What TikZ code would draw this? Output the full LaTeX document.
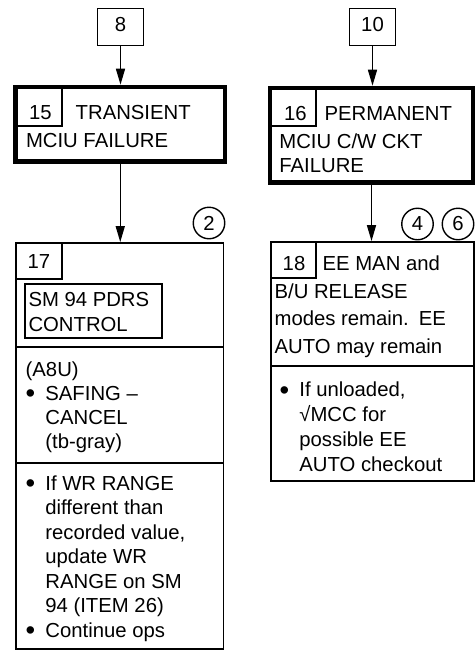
\documentclass[tikz,border=0pt]{standalone}
\usepackage{fontspec}
\usepackage{graphicx}
\setmainfont{Liberation Sans}
\usetikzlibrary{arrows.meta}
\newcommand{\bu}{\makebox[19.7pt][l]{\raisebox{-2.4pt}{\scalebox{1.35}{•}}}}
\newcommand{\nb}{\hspace*{19.7pt}}

\begin{document}
\begin{tikzpicture}[x=1pt, y=-1pt,
  txt/.style={inner sep=0pt, anchor=base west, align=left,
    font=\fontsize{20.3}{#1}\selectfont},
  txt/.default=24.5,
  box/.style={draw, line width=1.8pt, inner sep=0pt,
    font=\fontsize{20.3}{24.5}\selectfont},
  bigbox/.style={draw, line width=4.6pt, inner sep=0pt},
  tag/.style={draw, circle, line width=1.4pt, minimum size=31.5pt, inner sep=0pt,
    font=\fontsize{20.3}{24.5}\selectfont},
  arr/.style={-{Triangle[length=16pt, width=9pt]}, line width=1.5pt}]
  \useasboundingbox (0,0) rectangle (475,651);

  % entry boxes
  \node[box, minimum width=46pt, minimum height=37pt, text depth=4.5pt] (b8) at (120.5,27) {8};
  \node[box, minimum width=46pt, minimum height=37pt, text depth=4.5pt] (b10) at (372.5,27) {10};

  % step 15
  \node[bigbox, minimum width=209.5pt, minimum height=74.5pt] (b15) at (120.25,124.25) {};
  \node[box, minimum width=46.5pt, minimum height=39pt] (n15) at (38.75,106.5) {};
  \node[txt, anchor=base] (t15) at (40.5,119.5) {15};
  \node[txt] (l15a) at (75.5,119.5) {TRANSIENT};
  \node[txt] (l15b) at (25.8,147) {MCIU FAILURE};

  % step 16 (multi-line texts sit on their last line)
  \node[bigbox, minimum width=203pt, minimum height=94.5pt] (b16) at (371.5,135.25) {};
  \node[box, minimum width=46pt, minimum height=38pt] (n16) at (293,107) {};
  \node[txt, anchor=base] (t16) at (295.5,120) {16};
  \node[txt] (l16a) at (324.4,120) {PERMANENT};
  \node[txt=24] (l16b) at (279.2,172) {MCIU C/W CKT\\FAILURE};

  % step 17
  \node[box, minimum width=207.5pt, minimum height=406pt] (b17) at (119.75,446) {};
  \node[box, minimum width=46pt, minimum height=36pt] (n17) at (39,261) {};
  \node[txt, anchor=base] (t17) at (39,268) {17};
  \node[box, line width=2.2pt, minimum width=137pt, minimum height=54pt] (sm94) at (93.5,311) {};
  \node[txt=24.3] (l17a) at (28.3,331) {SM 94 PDRS\\CONTROL};
  \draw[line width=1.8pt] (16,347) -- (223.5,347);
  \node[txt=24] (l17b) at (25.5,448) {(A8U)\\\bu SAFING –\\\nb CANCEL\\\nb (tb-gray)};
  \draw[line width=1.8pt] (16,463) -- (223.5,463);
  \node[txt] (l17c) at (25.5,637) {\bu If WR RANGE\\\nb different than\\\nb recorded value,\\\nb update WR\\\nb RANGE on SM\\\nb 94 (ITEM 26)\\\bu Continue ops};

  % step 18
  \node[box, minimum width=203pt, minimum height=239pt] (b18) at (372.5,361.5) {};
  \node[box, minimum width=45pt, minimum height=36pt] (n18) at (293.5,260) {};
  \node[txt, anchor=base] (t18) at (294,270) {18};
  \node[txt] (l18a) at (322.4,270) {EE MAN and};
  \node[txt=27.5] (l18b) at (274.4,353) {B/U RELEASE\\modes remain.\hspace{10pt}EE\\AUTO may remain};
  \draw[line width=1.8pt] (271,366) -- (474,366);
  \node[txt=24.7] (l18c) at (279.5,471) {\bu If unloaded,\\\nb √MCC for\\\nb possible EE\\\nb AUTO checkout};

  % notes
  \node[tag] (c2) at (209,223) {2};
  \node[tag] (c4) at (417.5,224) {4};
  \node[tag] (c6) at (458,224) {6};

  % flow
  \draw[arr] (b8.south) -- (b8.south |- b15.north);
  \draw[arr] (b15.south) -- (b15.south |- b17.north);
  \draw[arr] (b10.south) -- (b10.south |- b16.north);
  \draw[arr] (b16.south) -- (b16.south |- b18.north);
\end{tikzpicture}
\end{document}
